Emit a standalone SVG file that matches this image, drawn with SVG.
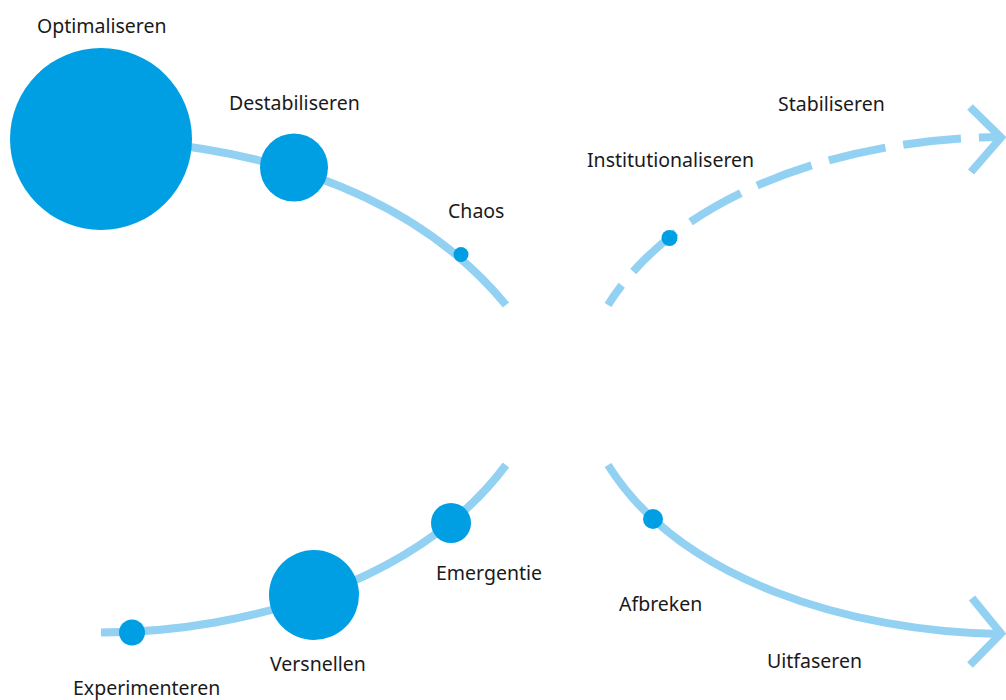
<svg xmlns="http://www.w3.org/2000/svg" width="1006" height="700" viewBox="0 0 1006 700">
<style>
.ln{fill:none;stroke:#93d1f3;stroke-width:8;stroke-linecap:butt;stroke-linejoin:miter}
.dot{fill:#009fe3}
.lb{font-family:"Noto Sans","Open Sans","DejaVu Sans",sans-serif;font-size:19.5px;fill:#1a1a1a}
</style>
<rect width="1006" height="700" fill="#ffffff"/>
<g id="connectors">
<path class="ln" d="M 150 142 C 330 160, 440 225, 506 305"/>
<path class="ln" d="M 101 632.5 C 250 632.5, 420 580, 506 465"/>
<path class="ln" d="M 608 305 C 680 190, 850 138, 1001 137" stroke-dasharray="58 18" stroke-dashoffset="34"/>
<polyline class="ln" points="970,107 1001,137.5 971,172"/>
<path class="ln" d="M 608 465 C 680 580, 850 632, 1001 634"/>
<polyline class="ln" points="972,598 1001,633.5 970,665"/>
</g>
<g id="optimaliseren"><circle class="dot" cx="101" cy="139" r="91"/><text class="lb" x="37" y="33">Optimaliseren</text></g>
<g id="destabiliseren"><circle class="dot" cx="294" cy="167.5" r="34"/><text class="lb" x="229" y="110">Destabiliseren</text></g>
<g id="chaos"><circle class="dot" cx="461" cy="254.5" r="7.5"/><text class="lb" x="448" y="218">Chaos</text></g>
<g id="institutionaliseren"><circle class="dot" cx="669.5" cy="238" r="8"/><text class="lb" x="587" y="167">Institutionaliseren</text></g>
<g id="stabiliseren"><text class="lb" x="778" y="111">Stabiliseren</text></g>
<g id="emergentie"><circle class="dot" cx="451" cy="523" r="20"/><text class="lb" x="436" y="580">Emergentie</text></g>
<g id="versnellen"><circle class="dot" cx="314" cy="595" r="45"/><text class="lb" x="270" y="671">Versnellen</text></g>
<g id="experimenteren"><circle class="dot" cx="132" cy="632.5" r="13"/><text class="lb" x="73" y="695">Experimenteren</text></g>
<g id="afbreken"><circle class="dot" cx="653" cy="519" r="10"/><text class="lb" x="619" y="611">Afbreken</text></g>
<g id="uitfaseren"><text class="lb" x="767" y="668">Uitfaseren</text></g>
</svg>
